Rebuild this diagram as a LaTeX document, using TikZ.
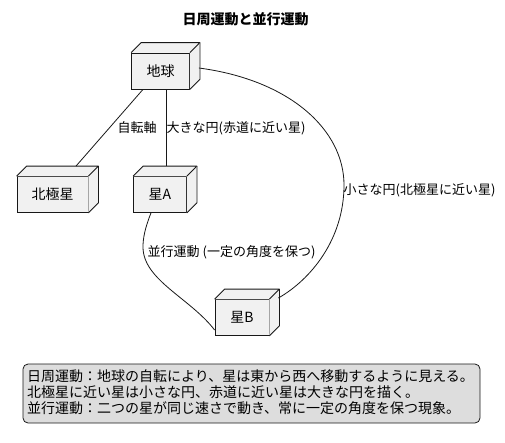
\documentclass[tikz,border=0pt]{standalone}
\usepackage{fontspec}
\setmainfont{Noto Sans CJK JP}
\definecolor{nodefill}{HTML}{F1F1F1}
\definecolor{linecol}{HTML}{181818}
\definecolor{notefill}{HTML}{DDDDDD}
\tikzset{
  box3d/.style={draw=linecol, fill=nodefill, line width=0.8pt, rectangle, inner sep=0pt,
    minimum height=36pt, font=\fontsize{14}{16}\selectfont},
  face/.style={draw=linecol, fill=nodefill, line width=0.8pt, line join=round},
  conn/.style={draw=linecol, line width=0.8pt},
  lbl/.style={font=\fontsize{13}{15}\selectfont, inner sep=0pt, anchor=west},
}
\newcommand{\boxfaces}[1]{%
  \fill[nodefill] (#1.north west) -- ++(10pt,10pt) -- ([shift={(10pt,10pt)}]#1.north east) -- ([shift={(10pt,10pt)}]#1.south east) -- (#1.south east) -- (#1.north east) -- cycle;
  \draw[face] (#1.north west) -- ++(10pt,10pt) -- ([shift={(10pt,10pt)}]#1.north east) -- (#1.north east);
  \draw[face] ([shift={(10pt,10pt)}]#1.north east) -- ([shift={(10pt,10pt)}]#1.south east) -- (#1.south east);
}
\begin{document}
\begin{tikzpicture}[x=1pt,y=-1pt]
\useasboundingbox (0,0) rectangle (505,442);
% title
\node[font=\fontsize{14}{16}\selectfont\bfseries, inner sep=0pt] (title) at (245.5,19) {日周運動と並行運動};
% nodes
\node[box3d, minimum width=58pt] (earth) at (160.5,71) {地球};
\node[box3d, minimum width=71pt] (polaris) at (52.5,194.5) {北極星};
\node[box3d, minimum width=53pt] (starA) at (160,194.5) {星A};
\node[box3d, minimum width=54pt] (starB) at (242,317.5) {星B};
\boxfaces{earth}
\boxfaces{polaris}
\boxfaces{starA}
\boxfaces{starB}
% connectors
\draw[conn] ([xshift=-17.5pt]earth.south) -- ([shift={(23.5pt,10pt)}]polaris.north);
\draw[conn] ([xshift=5.5pt]earth.south) -- ([shift={(6pt,10pt)}]starA.north);
\draw[conn] ([shift={(9pt,3pt)}]earth.east) .. controls (290,80) and (344,130) .. (344,185)
  .. controls (344,240) and (310,280) .. ([shift={(9pt,19.5pt)}]starB.east);
\draw[conn] ([xshift=-9pt]starA.south) .. controls (145,228) and (143,238) .. (143,247)
  .. controls (143,280) and (190,298) .. ([yshift=-12.5pt]starB.west);
% labels
\node[lbl] (l1) at (117.5,128) {自転軸};
\node[lbl] (l2) at (166.5,128) {大きな円(赤道に近い星)};
\node[lbl] (l3) at (343.5,190) {小さな円(北極星に近い星)};
\node[lbl] (l4) at (147.5,252) {並行運動 (一定の角度を保つ)};
% note
\node[draw=linecol, fill=notefill, line width=0.8pt, rounded corners=5pt, minimum width=457pt,
  minimum height=59pt, inner sep=0pt] (note) at (251.5,393.5) {};
\node[anchor=west, inner sep=0pt, align=left, font=\fontsize{14}{16}\selectfont] (notetext) at (27,392.5)
  {日周運動：地球の自転により、星は東から西へ移動するように見える。\\
   北極星に近い星は小さな円、赤道に近い星は大きな円を描く。\\
   並行運動：二つの星が同じ速さで動き、常に一定の角度を保つ現象。};
\end{tikzpicture}
\end{document}
